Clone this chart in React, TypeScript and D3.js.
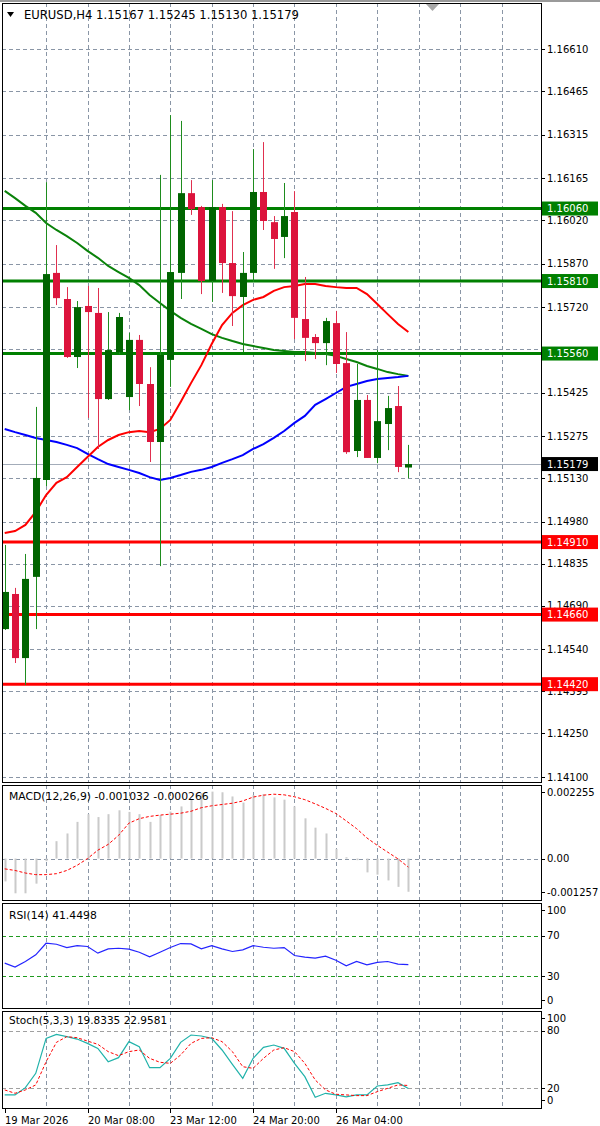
import React from "react";
import * as d3 from "d3";

// ---------- DATA ----------
const symbolTitle = "EURUSD,H4";
const headerOHLC = ["1.15167", "1.15245", "1.15130", "1.15179"];

const timeLabels = ["19 Mar 2026", "20 Mar 08:00", "23 Mar 12:00", "24 Mar 20:00", "26 Mar 04:00"];
const timeLabelBars = [0, 8, 16, 24, 32];

const open = [1.14610, 1.14731, 1.14510, 1.14790, 1.15124, 1.15838, 1.15748, 1.15548, 1.15724, 1.15700,
  1.15403, 1.15565, 1.15410, 1.15607, 1.15455, 1.15255, 1.15538, 1.15838, 1.16113, 1.16065,
  1.15810, 1.16065, 1.15872, 1.15755, 1.15838, 1.16117, 1.16013, 1.15962, 1.16048, 1.15679,
  1.15617, 1.15596, 1.15665, 1.15527, 1.15224, 1.15400, 1.15200, 1.15317, 1.15379, 1.15167];
const high = [1.14900, 1.14752, 1.14869, 1.15376, 1.16151, 1.15934, 1.15789, 1.15741, 1.15793, 1.15786,
  1.15703, 1.15700, 1.15631, 1.15624, 1.15513, 1.16176, 1.16382, 1.16362, 1.16158, 1.16069,
  1.16158, 1.16076, 1.16051, 1.15910, 1.16265, 1.16289, 1.16034, 1.16148, 1.16120, 1.15824,
  1.15627, 1.15683, 1.15707, 1.15634, 1.15524, 1.15417, 1.15572, 1.15414, 1.15448, 1.15245];
const low = [1.14607, 1.14493, 1.14417, 1.14610, 1.15103, 1.15727, 1.15545, 1.15510, 1.15338, 1.15231,
  1.15400, 1.15558, 1.15365, 1.15379, 1.15186, 1.14827, 1.15445, 1.15748, 1.16038, 1.15765,
  1.15738, 1.15769, 1.15655, 1.15565, 1.15807, 1.15986, 1.15852, 1.15889, 1.15610, 1.15534,
  1.15541, 1.15520, 1.15493, 1.15214, 1.15203, 1.15200, 1.15182, 1.15227, 1.15151, 1.15130];
const close = [1.14738, 1.14510, 1.14783, 1.15131, 1.15834, 1.15751, 1.15548, 1.15720, 1.15703, 1.15403,
  1.15572, 1.15686, 1.15607, 1.15455, 1.15255, 1.15555, 1.15841, 1.16113, 1.16058, 1.15810,
  1.16065, 1.15872, 1.15758, 1.15838, 1.16117, 1.16017, 1.15955, 1.16034, 1.15683, 1.15614,
  1.15596, 1.15672, 1.15524, 1.15220, 1.15400, 1.15200, 1.15327, 1.15372, 1.15169, 1.15179];

const maRed = [1.14941, 1.14948, 1.14969, 1.15014, 1.15072, 1.15114, 1.15134, 1.15169, 1.15203, 1.15238,
  1.15262, 1.15279, 1.15289, 1.15293, 1.15289, 1.15300, 1.15331, 1.15393, 1.15458, 1.15520,
  1.15593, 1.15658, 1.15700, 1.15727, 1.15745, 1.15755, 1.15776, 1.15789, 1.15793, 1.15800,
  1.15800, 1.15793, 1.15789, 1.15786, 1.15786, 1.15765, 1.15731, 1.15696, 1.15662, 1.15634];
const maBlue = [1.15300, 1.15289, 1.15279, 1.15269, 1.15262, 1.15255, 1.15245, 1.15234, 1.15214, 1.15196,
  1.15179, 1.15169, 1.15159, 1.15148, 1.15134, 1.15124, 1.15131, 1.15141, 1.15152, 1.15159,
  1.15169, 1.15183, 1.15196, 1.15210, 1.15231, 1.15248, 1.15269, 1.15293, 1.15321, 1.15345,
  1.15383, 1.15403, 1.15424, 1.15445, 1.15455, 1.15465, 1.15472, 1.15476, 1.15479, 1.15483];
const maGreen = [1.16121, 1.16096, 1.16069, 1.16045, 1.16010, 1.15986, 1.15965, 1.15941, 1.15914, 1.15890,
  1.15862, 1.15841, 1.15821, 1.15796, 1.15762, 1.15734, 1.15707, 1.15683, 1.15662, 1.15645,
  1.15627, 1.15614, 1.15603, 1.15593, 1.15586, 1.15579, 1.15572, 1.15569, 1.15565, 1.15565,
  1.15562, 1.15558, 1.15552, 1.15541, 1.15531, 1.15517, 1.15507, 1.15496, 1.15489, 1.15483];

const priceTicks = [1.16610, 1.16465, 1.16315, 1.16165, 1.16020, 1.15870, 1.15720, 1.15575, 1.15425,
  1.15275, 1.15130, 1.14980, 1.14835, 1.14690, 1.14540, 1.14395, 1.14250, 1.14100];
const greenLevels = [1.16060, 1.15810, 1.15560];
const redLevels = [1.14910, 1.14660, 1.14420];
const lastPrice = 1.15179;

const macdHist = [-0.00071, -0.00108, -0.00108, -0.00078, -0.00008, 0.00054, 0.00078, 0.00114, 0.00138, 0.00129,
  0.00138, 0.00150, 0.00145, 0.00138, 0.00114, 0.00135, 0.00146, 0.00162, 0.00183, 0.00204,
  0.00208, 0.00206, 0.00193, 0.00174, 0.00197, 0.00200, 0.00190, 0.00183, 0.00162, 0.00125,
  0.00096, 0.00078, 0.00030, 0.00004, -0.00005, -0.00043, -0.00050, -0.00068, -0.00088, -0.001032];
const macdSignal = [-0.00032, -0.00037, -0.00045, -0.00050, -0.00050, -0.00047, -0.00037, -0.00021, 0.00000, 0.00026,
  0.00044, 0.00072, 0.00110, 0.00124, 0.00131, 0.00135, 0.00138, 0.00141, 0.00147, 0.00158,
  0.00164, 0.00168, 0.00172, 0.00179, 0.00191, 0.00197, 0.00200, 0.00198, 0.00192, 0.00183,
  0.00170, 0.00156, 0.00140, 0.00117, 0.00093, 0.00064, 0.00041, 0.00020, -0.00001, -0.000266];
const macdTicks = [0.002255, 0, -0.001257];
const macdTickText = ["0.002255", "0.00", "-0.001257"];

const rsi = [43.0, 39.1, 44.6, 51.1, 62.5, 61.5, 58.3, 60.2, 59.3, 52.8,
  57.0, 57.6, 56.7, 53.7, 49.2, 53.7, 58.3, 62.2, 61.9, 57.0,
  60.2, 57.0, 54.4, 56.0, 60.2, 58.6, 57.6, 58.3, 50.5, 48.9,
  47.9, 49.8, 45.9, 40.4, 44.6, 41.4, 43.7, 44.6, 42.0, 41.45];
const rsiLevels = [70, 30];
const rsiTicks = [100, 70, 30, 0];

const stochMain = [13.1, 13.1, 20.7, 35.6, 72.0, 76.2, 73.8, 71.3, 66.8, 61.6,
  47.7, 51.9, 68.6, 63.4, 41.5, 41.5, 51.2, 67.9, 75.5, 74.5,
  72.0, 59.9, 45.0, 30.4, 51.2, 62.7, 65.1, 61.6, 46.0, 32.1,
  10.6, 14.8, 13.1, 11.0, 13.1, 13.1, 22.4, 23.5, 25.9, 19.83];
const stochSignal = [18.3, 14.8, 18.3, 23.5, 47.7, 67.9, 73.8, 72.7, 69.2, 65.8,
  58.2, 54.0, 58.2, 59.9, 51.2, 47.1, 46.0, 54.7, 66.8, 72.0,
  72.7, 68.6, 58.2, 42.5, 40.8, 51.2, 59.9, 62.3, 58.2, 46.0,
  28.7, 18.3, 13.8, 13.1, 12.4, 12.4, 16.5, 20.0, 23.5, 22.96];
const stochLevels = [80, 20];
const stochTicks = [100, 80, 20, 0];

// ---------- LAYOUT ----------
const W = 600, H = 1126;
const LEFT = 2, RIGHT = 541;
const FONT = "'DejaVu Sans', Verdana, sans-serif";
const GRID = "#8a96a6";
const DASH = "4,3";

const panels = {
  main: { top: 3, bottom: 782 },
  macd: { top: 785, bottom: 900 },
  rsi: { top: 903, bottom: 1008 },
  stoch: { top: 1011, bottom: 1108 },
};

const x = d3.scaleLinear().domain([0, 52]).range([4.7, 4.7 + 52 * 10.35]);
const yMain = d3.scaleLinear().domain([1.141, 1.1661]).range([777, 49]);
const yMacd = d3.scaleLinear().domain([-0.001257, 0.002255]).range([899, 786]);
const yRsi = d3.scaleLinear().domain([0, 100]).range([1007, 905]);
const yStoch = d3.scaleLinear().domain([0, 100]).range([1107.5, 1011.5]);

const gridBars = d3.range(4, 52, 4);
const idx = d3.range(open.length);
const levelValues = [...greenLevels, ...redLevels, lastPrice];

function lineOf(vals: number[], ys: d3.ScaleLinear<number, number>) {
  return d3.line<number>().x((_, i) => x(i)).y((v) => ys(v))(vals) || "";
}

function VGrid({ top, bottom }: { top: number; bottom: number }) {
  return (
    <g>
      {gridBars.map((b) => {
        const gx = Math.round(x(b)) + 0.5;
        return gx < RIGHT ? (
          <line key={b} x1={gx} x2={gx} y1={top} y2={bottom} stroke={GRID} strokeDasharray={DASH} strokeWidth={1} />
        ) : null;
      })}
    </g>
  );
}

function AxisLabel({ y, text, fill = "#000" }: { y: number; text: string; fill?: string }) {
  return (
    <g>
      <line x1={RIGHT} x2={RIGHT + 4} y1={Math.round(y) + 0.5} y2={Math.round(y) + 0.5} stroke="#000" />
      <text x={547} y={y} dy="0.36em" fontSize={10} fontFamily={FONT} fill={fill}>{text}</text>
    </g>
  );
}

function clampLabel(y: number, top: number, bottom: number) {
  return Math.max(top + 7, Math.min(bottom - 8, y));
}

export default function App() {
  const m = panels.main;
  // price tick labels fully hidden under a level box are not drawn (as in the reference)
  const visibleTicks = priceTicks.filter(
    (t) => !levelValues.some((l) => Math.abs(yMain(t) - yMain(l)) < 6)
  );
  return (
    <svg width={W} height={H} viewBox={`0 0 ${W} ${H}`}
      style={{ position: "absolute", left: 0, top: 0, background: "#fff", display: "block" }}>
      <defs>
        {Object.entries(panels).map(([k, p]) => (
          <clipPath id={`clip-${k}`} key={k}>
            <rect x={LEFT} y={p.top} width={RIGHT - LEFT} height={p.bottom - p.top} />
          </clipPath>
        ))}
      </defs>
      <rect x={0} y={0} width={W} height={H} fill="#fff" />
      <line x1={0} x2={W} y1={1} y2={1} stroke="#9a9a9a" strokeWidth={2} />

      {/* ===== MAIN PANEL ===== */}
      <g clipPath="url(#clip-main)">
        <VGrid top={m.top} bottom={m.bottom} />
        {priceTicks.map((t) => {
          const gy = Math.round(yMain(t)) + 0.5;
          return <line key={t} x1={LEFT} x2={RIGHT} y1={gy} y2={gy} stroke={GRID} strokeDasharray={DASH} />;
        })}
        <line x1={LEFT} x2={RIGHT} y1={Math.round(yMain(lastPrice)) + 0.5} y2={Math.round(yMain(lastPrice)) + 0.5}
          stroke="#a3acb9" strokeWidth={1} />
        {greenLevels.map((l) => (
          <line key={l} x1={LEFT} x2={RIGHT} y1={yMain(l)} y2={yMain(l)} stroke="#008000" strokeWidth={3} />
        ))}
        {redLevels.map((l) => (
          <line key={l} x1={LEFT} x2={RIGHT} y1={yMain(l)} y2={yMain(l)} stroke="#ff0000" strokeWidth={3} />
        ))}
        <path d={lineOf(maGreen, yMain)} fill="none" stroke="#0a820a" strokeWidth={2} />
        <path d={lineOf(maBlue, yMain)} fill="none" stroke="#0000ff" strokeWidth={2} />
        <path d={lineOf(maRed, yMain)} fill="none" stroke="#ff0000" strokeWidth={2} />
        {idx.map((i) => {
          const cx = Math.round(x(i));
          const bull = close[i] >= open[i];
          const bodyTop = yMain(Math.max(open[i], close[i]));
          const bodyBot = yMain(Math.min(open[i], close[i]));
          return (
            <g key={i}>
              <line x1={cx + 0.5} x2={cx + 0.5} y1={yMain(high[i])} y2={yMain(low[i])}
                stroke={bull ? "#1e8c1e" : "#e0304f"} strokeWidth={1} />
              <rect x={cx - 3} y={bodyTop} width={7} height={Math.max(1.5, bodyBot - bodyTop)}
                fill={bull ? "#006400" : "#dc143c"} />
            </g>
          );
        })}
      </g>
      {/* header */}
      <path d="M7,12 L14,12 L10.5,17 Z" fill="#000" />
      <text x={24} y={19} fontSize={11.6} fontFamily={FONT} fill="#000">
        {`${symbolTitle}  ${headerOHLC.join(" ")}`}
      </text>
      <path d="M425,3 L440,3 L432.5,11 Z" fill="#a8a8a8" />
      <rect x={LEFT + 0.5} y={m.top + 0.5} width={RIGHT - LEFT} height={m.bottom - m.top} fill="none" stroke="#000" />
      {priceTicks.map((t) => (
        <line key={`tk${t}`} x1={RIGHT} x2={RIGHT + 4} y1={Math.round(yMain(t)) + 0.5} y2={Math.round(yMain(t)) + 0.5} stroke="#000" />
      ))}
      {visibleTicks.map((t) => (
        <AxisLabel key={t} y={yMain(t)} text={t.toFixed(5)} />
      ))}
      {greenLevels.map((l) => (
        <g key={l}>
          <rect x={RIGHT + 1} y={yMain(l) - 7} width={56} height={14} fill="#008000" />
          <text x={547} y={yMain(l)} dy="0.36em" fontSize={10} fontFamily={FONT} fill="#fff">{l.toFixed(5)}</text>
        </g>
      ))}
      {redLevels.map((l) => (
        <g key={l}>
          <rect x={RIGHT + 1} y={yMain(l) - 7} width={56} height={14} fill="#ff0000" />
          <text x={547} y={yMain(l)} dy="0.36em" fontSize={10} fontFamily={FONT} fill="#fff">{l.toFixed(5)}</text>
        </g>
      ))}
      <rect x={RIGHT + 1} y={yMain(lastPrice) - 7} width={56} height={14} fill="#000" />
      <text x={547} y={yMain(lastPrice)} dy="0.36em" fontSize={10} fontFamily={FONT} fill="#fff">{lastPrice.toFixed(5)}</text>

      {/* ===== MACD ===== */}
      <g clipPath="url(#clip-macd)">
        <VGrid top={panels.macd.top} bottom={panels.macd.bottom} />
        <line x1={LEFT} x2={RIGHT} y1={Math.round(yMacd(0)) + 0.5} y2={Math.round(yMacd(0)) + 0.5}
          stroke={GRID} strokeDasharray={DASH} />
        {idx.map((i) => {
          const cx = Math.round(x(i));
          const y0 = yMacd(0), y1 = yMacd(macdHist[i]);
          return <rect key={i} x={cx - 0.5} y={Math.min(y0, y1)} width={2} height={Math.abs(y1 - y0)} fill="#cacaca" />;
        })}
        <path d={lineOf(macdSignal, yMacd)} fill="none" stroke="#ff0000" strokeWidth={1} strokeDasharray="3,2" />
      </g>
      <rect x={LEFT + 0.5} y={panels.macd.top + 0.5} width={RIGHT - LEFT} height={panels.macd.bottom - panels.macd.top} fill="none" stroke="#000" />
      <text x={9} y={800} fontSize={10.8} fontFamily={FONT} fill="#000">MACD(12,26,9) -0.001032 -0.000266</text>
      {macdTicks.map((t, i) => (
        <AxisLabel key={t} y={clampLabel(yMacd(t), panels.macd.top, panels.macd.bottom)} text={macdTickText[i]} />
      ))}

      {/* ===== RSI ===== */}
      <g clipPath="url(#clip-rsi)">
        <VGrid top={panels.rsi.top} bottom={panels.rsi.bottom} />
        {rsiLevels.map((l) => (
          <line key={l} x1={LEFT} x2={RIGHT} y1={Math.round(yRsi(l)) + 0.5} y2={Math.round(yRsi(l)) + 0.5}
            stroke="#1f9a1f" strokeDasharray={DASH} />
        ))}
        <path d={lineOf(rsi, yRsi)} fill="none" stroke="#2424ff" strokeWidth={1.2} />
      </g>
      <rect x={LEFT + 0.5} y={panels.rsi.top + 0.5} width={RIGHT - LEFT} height={panels.rsi.bottom - panels.rsi.top} fill="none" stroke="#000" />
      <text x={9} y={919} fontSize={10.8} fontFamily={FONT} fill="#000">RSI(14) 41.4498</text>
      {rsiTicks.map((t) => (
        <AxisLabel key={t} y={clampLabel(yRsi(t), panels.rsi.top, panels.rsi.bottom)} text={String(t)} />
      ))}

      {/* ===== STOCH ===== */}
      <g clipPath="url(#clip-stoch)">
        <VGrid top={panels.stoch.top} bottom={panels.stoch.bottom} />
        {stochLevels.map((l) => (
          <line key={l} x1={LEFT} x2={RIGHT} y1={Math.round(yStoch(l)) + 0.5} y2={Math.round(yStoch(l)) + 0.5}
            stroke="#a0a0a0" strokeDasharray={DASH} />
        ))}
        <path d={lineOf(stochMain, yStoch)} fill="none" stroke="#20b2aa" strokeWidth={1.2} />
        <path d={lineOf(stochSignal, yStoch)} fill="none" stroke="#ff0000" strokeWidth={1} strokeDasharray="3,2" />
      </g>
      <rect x={LEFT + 0.5} y={panels.stoch.top + 0.5} width={RIGHT - LEFT} height={panels.stoch.bottom - panels.stoch.top} fill="none" stroke="#000" />
      <text x={9} y={1024} fontSize={10.5} fontFamily={FONT} fill="#000">Stoch(5,3,3) 19.8335 22.9581</text>
      {stochTicks.map((t) => (
        <AxisLabel key={t} y={clampLabel(yStoch(t), panels.stoch.top, panels.stoch.bottom)} text={String(t)} />
      ))}

      {/* ===== TIME AXIS ===== */}
      {timeLabels.map((lbl, i) => {
        const tx = Math.round(x(timeLabelBars[i])) + 0.5;
        return (
          <g key={lbl}>
            <line x1={tx} x2={tx} y1={panels.stoch.bottom} y2={panels.stoch.bottom + 5} stroke="#000" />
            <text x={tx - 0.5} y={1124} fontSize={10} fontFamily={FONT} fill="#000">{lbl}</text>
          </g>
        );
      })}
    </svg>
  );
}
